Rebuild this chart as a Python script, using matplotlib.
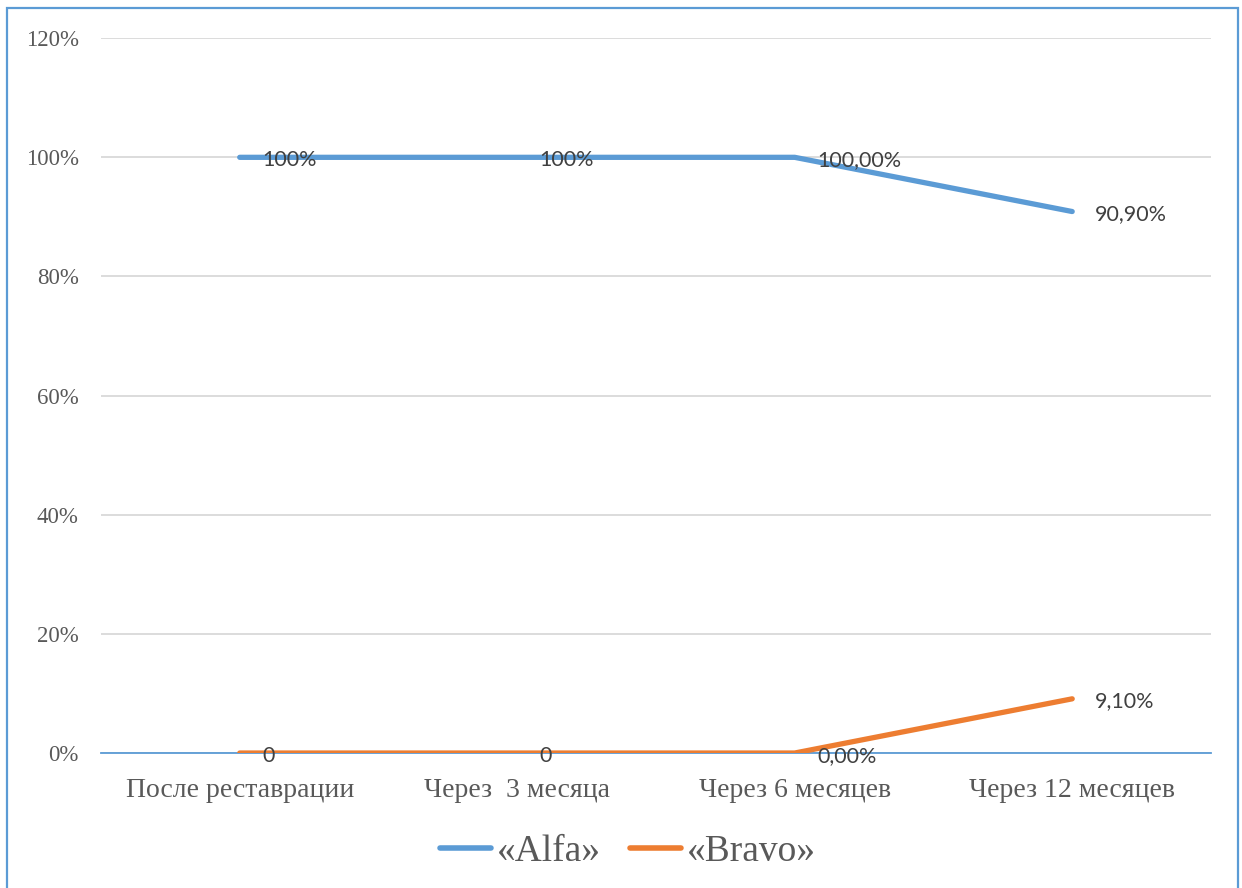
import matplotlib.pyplot as plt
from matplotlib.patches import Rectangle
from matplotlib.ticker import FuncFormatter

# Доля реставраций по критериям USPHS
periods = ["После реставрации", "Через  3 месяца", "Через 6 месяцев", "Через 12 месяцев"]
alfa = [1.0, 1.0, 1.0, 0.909]
bravo = [0.0, 0.0, 0.0, 0.091]
alfa_labels = ["100%", "100%", "100,00%", "90,90%"]
bravo_labels = ["0", "0", "0,00%", "9,10%"]

blue = "#5B9BD5"
orange = "#ED7D31"
grey = "#595959"
serif = "Liberation Serif"

fig = plt.figure(figsize=(12.42, 8.88), dpi=100)
ax = fig.add_axes([0.0813, 0.152, 0.8937, 0.805])

x = range(len(periods))
ax.plot(x, alfa, color=blue, lw=3.8, solid_capstyle="round", label="«Alfa»", zorder=3)
ax.plot(x, bravo, color=orange, lw=3.8, solid_capstyle="round", label="«Bravo»", zorder=4)

# подписи значений справа от точек
for xi, v, t in zip(x, alfa, alfa_labels):
    ax.annotate(t, (xi, v), xytext=(16, -2), textcoords="offset points",
                ha="left", va="center", fontsize=15.5, family="Lato", color="#404040", zorder=5)
for xi, v, t in zip(x, bravo, bravo_labels):
    ax.annotate(t, (xi, v), xytext=(16, -2), textcoords="offset points",
                ha="left", va="center", fontsize=15.5, family="Lato", color="#404040", zorder=5)

ax.set_xlim(-0.5, 3.5)
ax.set_ylim(0, 1.2)
ax.set_yticks([0, 0.2, 0.4, 0.6, 0.8, 1.0, 1.2])
ax.yaxis.set_major_formatter(FuncFormatter(lambda v, p: f"{v*100:.0f}%"))
ax.set_xticks(list(x))
ax.set_xticklabels(periods)
ax.grid(axis="y", color="#D9D9D9", lw=1.3)
ax.set_axisbelow(True)
for s in ["top", "right", "left"]:
    ax.spines[s].set_visible(False)
ax.spines["bottom"].set_color(blue)
ax.spines["bottom"].set_linewidth(1.3)
ax.spines["bottom"].set_zorder(2)
ax.tick_params(length=0)
ax.tick_params(axis="y", pad=16, labelsize=16.5, labelcolor=grey)
ax.tick_params(axis="x", pad=18, labelsize=20, labelcolor=grey)
for lab in ax.get_xticklabels() + ax.get_yticklabels():
    lab.set_family(serif)

leg = fig.legend(loc="center", bbox_to_anchor=(0.5056, 0.041), ncol=2, frameon=False,
                 prop={"family": serif, "size": 27}, handlelength=1.35, handletextpad=0.15,
                 columnspacing=0.8)
for line in leg.get_lines():
    line.set_linewidth(4)
    line.set_solid_capstyle("round")
for t in leg.get_texts():
    t.set_color(grey)

# рамка диаграммы
fig.patches.append(Rectangle((7 / 1242, -0.05), 1231 / 1242, 1.05 - 8 / 888,
                             transform=fig.transFigure, fill=False,
                             edgecolor=blue, lw=1.6))

fig.savefig("out.png", dpi=100)
